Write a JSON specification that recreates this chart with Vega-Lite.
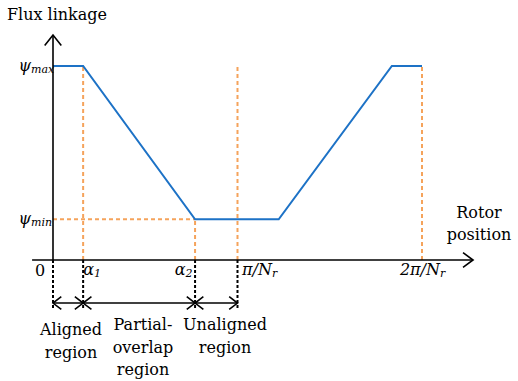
{
  "$schema": "https://vega.github.io/schema/vega-lite/v6.json",
  "width": 518,
  "height": 381,
  "autosize": {"type": "fit", "contains": "padding"},
  "padding": 0,
  "background": "white",
  "config": {"view": {"stroke": null}},
  "datasets": {
    "curve": [
      {"x": 0, "y": 1, "o": 0},
      {"x": 4.9, "y": 1, "o": 1},
      {"x": 23.1, "y": 0.21, "o": 2},
      {"x": 36.7, "y": 0.21, "o": 3},
      {"x": 55.1, "y": 1, "o": 4},
      {"x": 60, "y": 1, "o": 5}
    ],
    "guides": [
      {"x": 4.9, "x2": 4.9, "y": 0, "y2": 1},
      {"x": 30, "x2": 30, "y": 0, "y2": 1.01},
      {"x": 60, "x2": 60, "y": 0, "y2": 1},
      {"x": 23.1, "x2": 23.1, "y": 0, "y2": 0.21},
      {"x": 0, "x2": 23.1, "y": 0.21, "y2": 0.21}
    ],
    "drops": [
      {"x": 0, "x2": 0, "y": 0, "y2": -0.247},
      {"x": 4.9, "x2": 4.9, "y": 0, "y2": -0.247},
      {"x": 23.1, "x2": 23.1, "y": 0, "y2": -0.247},
      {"x": 30, "x2": 30, "y": 0, "y2": -0.247}
    ],
    "axes": [
      {"x": -3.4, "x2": 68.3, "y": 0, "y2": 0},
      {"x": 0, "x2": 0, "y": 0, "y2": 1.16},
      {"x": 0, "x2": 30, "y": -0.222, "y2": -0.222}
    ],
    "chevrons": [
      {"g": "xaxis", "o": 0, "x": 66.67, "y": 0.038},
      {"g": "xaxis", "o": 1, "x": 68.3, "y": 0},
      {"g": "xaxis", "o": 2, "x": 66.67, "y": -0.038},
      {"g": "yaxis", "o": 0, "x": -1.35, "y": 1.106},
      {"g": "yaxis", "o": 1, "x": 0, "y": 1.16},
      {"g": "yaxis", "o": 2, "x": 1.35, "y": 1.106},
      {"g": "a0L", "o": 0, "x": 1.35, "y": -0.189},
      {"g": "a0L", "o": 1, "x": 0, "y": -0.222},
      {"g": "a0L", "o": 2, "x": 1.35, "y": -0.255},
      {"g": "a1R", "o": 0, "x": 3.55, "y": -0.189},
      {"g": "a1R", "o": 1, "x": 4.9, "y": -0.222},
      {"g": "a1R", "o": 2, "x": 3.55, "y": -0.255},
      {"g": "a1L", "o": 0, "x": 6.25, "y": -0.189},
      {"g": "a1L", "o": 1, "x": 4.9, "y": -0.222},
      {"g": "a1L", "o": 2, "x": 6.25, "y": -0.255},
      {"g": "a2R", "o": 0, "x": 21.75, "y": -0.189},
      {"g": "a2R", "o": 1, "x": 23.1, "y": -0.222},
      {"g": "a2R", "o": 2, "x": 21.75, "y": -0.255},
      {"g": "a2L", "o": 0, "x": 24.45, "y": -0.189},
      {"g": "a2L", "o": 1, "x": 23.1, "y": -0.222},
      {"g": "a2L", "o": 2, "x": 24.45, "y": -0.255},
      {"g": "a3R", "o": 0, "x": 28.65, "y": -0.189},
      {"g": "a3R", "o": 1, "x": 30, "y": -0.222},
      {"g": "a3R", "o": 2, "x": 28.65, "y": -0.255}
    ],
    "words": [
      {"x": 0.65, "y": 1.263, "text": "Flux linkage"},
      {"x": -2.11, "y": -0.057, "text": "0"},
      {"x": 69.27, "y": 0.242, "text": "Rotor"},
      {"x": 69.27, "y": 0.129, "text": "position"},
      {"x": 2.93, "y": -0.361, "text": "Aligned"},
      {"x": 2.93, "y": -0.479, "text": "region"},
      {"x": 14.63, "y": -0.335, "text": "Partial-"},
      {"x": 14.63, "y": -0.454, "text": "overlap"},
      {"x": 14.63, "y": -0.567, "text": "region"},
      {"x": 27.97, "y": -0.335, "text": "Unaligned"},
      {"x": 27.97, "y": -0.454, "text": "region"}
    ],
    "symbols": [
      {"x": -3.58, "y": 1, "text": "ψ", "sub": "max"},
      {"x": -3.58, "y": 0.21, "text": "ψ", "sub": "min"},
      {"x": 6.67, "y": -0.052, "text": "α", "sub": "1"},
      {"x": 21.54, "y": -0.052, "text": "α", "sub": "2"},
      {"x": 35.61, "y": -0.052, "text": "π/N", "sub": "r"},
      {"x": 62.93, "y": -0.052, "text": "2π/N", "sub": "r"}
    ]
  },
  "encoding": {
    "x": {"field": "x", "type": "quantitative", "scale": {"domain": [-8.618, 75.61], "nice": false, "zero": false}, "axis": null},
    "y": {"field": "y", "type": "quantitative", "scale": {"domain": [-0.6237, 1.3402], "nice": false, "zero": false}, "axis": null}
  },
  "layer": [
    {
      "data": {"name": "guides"},
      "mark": {"type": "rule", "color": "#F5A35B", "strokeWidth": 2, "strokeDash": [4, 3]},
      "encoding": {"x2": {"field": "x2"}, "y2": {"field": "y2"}}
    },
    {
      "data": {"name": "curve"},
      "mark": {"type": "line", "color": "#1D72C6", "strokeWidth": 2},
      "encoding": {"order": {"field": "o", "type": "quantitative"}}
    },
    {
      "data": {"name": "axes"},
      "mark": {"type": "rule", "color": "black", "strokeWidth": 1.6},
      "encoding": {"x2": {"field": "x2"}, "y2": {"field": "y2"}}
    },
    {
      "data": {"name": "chevrons"},
      "mark": {"type": "line", "color": "black", "strokeWidth": 1.6},
      "encoding": {
        "detail": {"field": "g", "type": "nominal"},
        "order": {"field": "o", "type": "quantitative"}
      }
    },
    {
      "data": {"name": "drops"},
      "mark": {"type": "rule", "color": "black", "strokeWidth": 2, "strokeDash": [3, 2]},
      "encoding": {"x2": {"field": "x2"}, "y2": {"field": "y2"}}
    },
    {
      "data": {"name": "words"},
      "mark": {"type": "text", "font": "DejaVu Serif", "fontSize": 16, "align": "center", "baseline": "middle", "color": "black"},
      "encoding": {"text": {"field": "text"}}
    },
    {
      "data": {"name": "symbols"},
      "mark": {"type": "text", "font": "DejaVu Serif", "fontSize": 16, "fontStyle": "italic", "align": "right", "baseline": "middle", "color": "black"},
      "encoding": {"text": {"field": "text"}}
    },
    {
      "data": {"name": "symbols"},
      "mark": {"type": "text", "font": "DejaVu Serif", "fontSize": 11, "fontStyle": "italic", "align": "left", "baseline": "middle", "dy": 4, "color": "black"},
      "encoding": {"text": {"field": "sub"}}
    }
  ]
}
